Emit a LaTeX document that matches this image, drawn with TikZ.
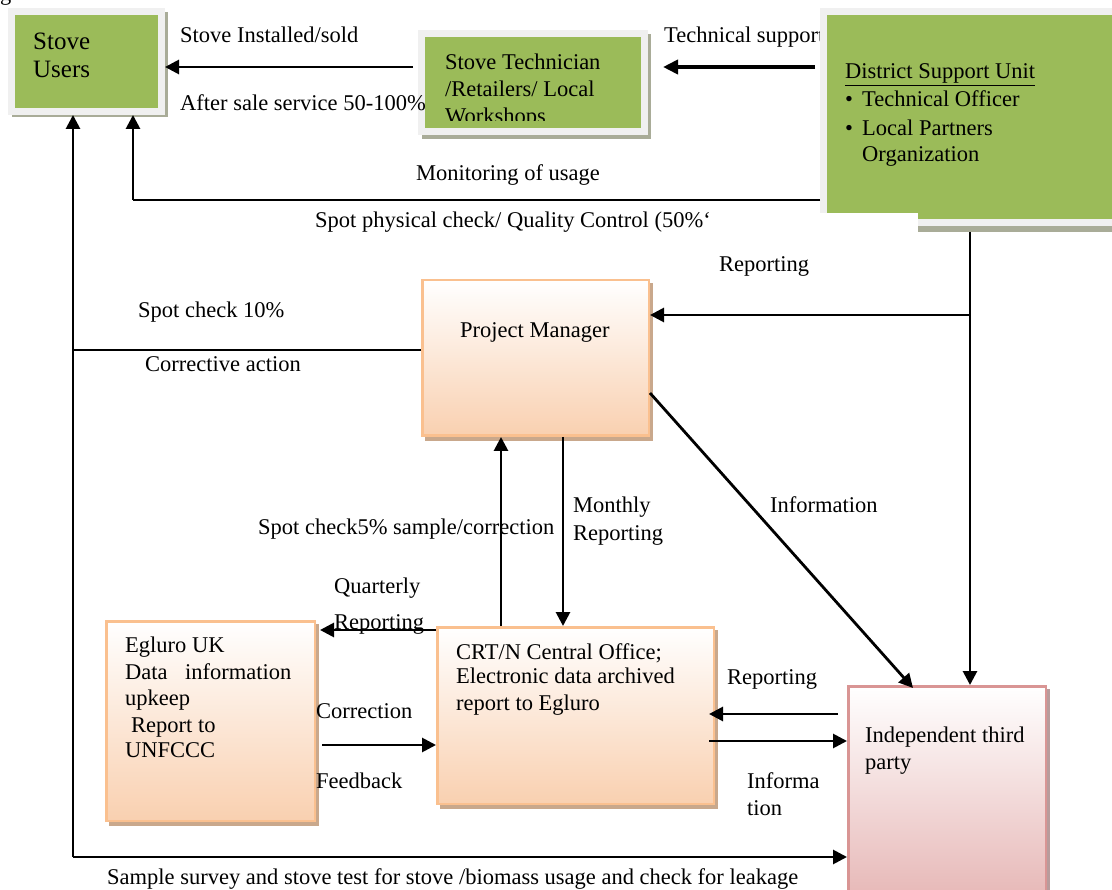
\documentclass[tikz,border=0pt]{standalone}
\usepackage{fontspec}
\setmainfont{Liberation Serif}
\usetikzlibrary{arrows.meta}
\definecolor{grn}{HTML}{9BBB59}
\definecolor{grayb}{HTML}{F0F0F0}
\definecolor{peachb}{HTML}{FAC08F}
\definecolor{peachf}{HTML}{F9D0B0}
\definecolor{pinkb}{HTML}{D99594}
\definecolor{pinkf}{HTML}{E6B6B5}
\definecolor{shg}{HTML}{A9AC98}
\definecolor{shp}{HTML}{C9A88C}
\definecolor{shk}{HTML}{B89C9C}
\begin{document}
\begin{tikzpicture}[x=1pt,y=-1pt,
  txt/.style={anchor=base west, inner sep=0pt, font=\fontsize{22.5}{27}\selectfont},
  bigtxt/.style={anchor=base west, inner sep=0pt, font=\fontsize{25}{30}\selectfont},
  ln/.style={line width=2.8pt},
  arr/.style={line width=2.8pt, -{Triangle[length=14pt,width=14pt]}},
  thickarr/.style={line width=4pt, -{Triangle[length=15pt,width=14pt]}},
  greenbox/.style={draw=grayb, line width=7pt, fill=grn, inner sep=0pt, anchor=north west},
  peachbox/.style={draw=peachb, line width=2.5pt, top color=white, bottom color=peachf, inner sep=0pt, anchor=north west},
  pinkbox/.style={draw=pinkb, line width=2.5pt, top color=white, bottom color=pinkf, inner sep=0pt, anchor=north west}]
\useasboundingbox (0,0) rectangle (1112,890);

% fragment at top left
\node[txt] (fig) at (0,0.5) {g};

% ---------- shadows ----------
\fill[shg] (12,111) rectangle (168,117);
\fill[shg] (161,12) rectangle (168,117);
\fill[shg] (422,131) rectangle (651,139);
\fill[shg] (644,34) rectangle (651,139);
\fill[shg] (918,226) rectangle (1112,232);
\fill[shp] (425,283) rectangle (653,441);
\fill[shp] (440,630) rectangle (718,809);
\fill[shp] (109,624) rectangle (319,826);
\fill[shk] (851,689) rectangle (1050,905);

% ---------- top row ----------
\node[txt] (tsup) at (664,43) {Technical support};

\node[greenbox, minimum width=150pt, minimum height=100pt] (su) at (8,8) {};
\node[bigtxt] (su1) at (33,50) {Stove};
\node[bigtxt] (su2) at (33,78) {Users};

\node[greenbox, minimum width=223pt, minimum height=98pt] (tech) at (418,30) {};
\begin{scope}
  \clip (418,30) rectangle (648,121);
  \node[txt] (te1) at (445,70) {Stove Technician};
  \node[txt] (te2) at (445,97) {/Retailers/ Local};
  \node[txt] (te3) at (445,124) {Workshops};
\end{scope}

\node[greenbox, minimum width=298pt, minimum height=211pt] (dsu) at (820,8) {};
\node[txt] (d1) at (845,79) {\underline{District Support Unit}};
\node[txt] (b1) at (845,107) {\textbullet};
\node[txt] (d2) at (862,107) {Technical Officer};
\node[txt] (b2) at (845,136) {\textbullet};
\node[txt] (d3) at (862,136) {Local Partners};
\node[txt] (d4) at (862,162) {Organization};
\fill[white] (812,213) rectangle (918,240);

\node[txt] (l1) at (180,43) {Stove Installed/sold};
\node[txt] (l2) at (180,111) {After sale service 50-100\%};
\node[txt] (l3) at (416,181) {Monitoring of usage};
\node[txt] (l4) at (315,228) {Spot physical check/ Quality Control (50\%`};

\coordinate (c1) at (413,67);
\draw[arr] (c1) -- (su.east |- c1);
\coordinate (c2) at (815,67);
\coordinate (c3) at (663,67);
\draw[thickarr] (c2) -- (c3);

\coordinate (c4) at (820,200);
\coordinate (c5) at (133,200);
\draw[ln] (c4) -- (c5);
\draw[arr] (c5) -- (c5 |- su.south);

% ---------- middle ----------
\node[peachbox, minimum width=226.5pt, minimum height=155.5pt] (pm) at (421,279) {};
\node[txt] (pmt) at (460,338) {Project Manager};

\coordinate (v1) at (970,232);
\coordinate (v2) at (970,315);
\node[txt] (l5) at (719,272) {Reporting};
\node[txt] (l6) at (138,318) {Spot check 10\%};
\node[txt] (l7) at (145,372) {Corrective action};
\node[txt] (l8) at (258,535) {Spot check5\% sample/correction};
\node[txt] (l9) at (573,513) {Monthly};
\node[txt] (l10) at (573,540) {Reporting};
\node[txt] (l11) at (770,513) {Information};

% ---------- bottom boxes ----------
\node[peachbox, minimum width=276.5pt, minimum height=176.5pt] (crt) at (436,626) {};
\node[txt] (cr1) at (456,659) {CRT/N Central Office;};
\node[txt] (cr2) at (456,683) {Electronic data archived};
\node[txt] (cr3) at (456,710) {report to Egluro};

\node[peachbox, minimum width=208.5pt, minimum height=199.5pt] (egl) at (105,620) {};
\node[txt] (e1) at (125,652) {Egluro UK};
\node[txt] (e2) at (125,679) {Data};
\node[txt] (e2b) at (185,679) {information};
\node[txt] (e3) at (125,705) {upkeep};
\node[txt] (e4) at (131,732) {Report to};
\node[txt] (e5) at (125,757) {UNFCCC};

\node[pinkbox, minimum width=197.5pt, minimum height=217.5pt] (third) at (847,685) {};
\node[txt] (t1) at (865,742) {Independent third};
\node[txt] (t2) at (865,769) {party};

\node[txt] (l12) at (334,594) {Quarterly};
\node[txt] (l13) at (334,629) {Reporting};
\node[txt] (l14) at (316,718) {Correction};
\node[txt] (l15) at (316,788) {Feedback};
\node[txt] (l16) at (727,684) {Reporting};
\node[txt] (l17) at (747,788) {Informa};
\node[txt] (l18) at (747,815) {tion};
\node[txt] (l19) at (107,884) {Sample survey and stove test for stove /biomass usage and check for leakage};

% ---------- connectors ----------
\draw[arr] (v1) -- (v1 |- third.north);
\draw[arr] (v2) -- (v2 -| pm.east);

\coordinate (h1) at (73,350);
\coordinate (h2) at (73,857);
\draw[ln] (h1 -| pm.west) -- (h1);
\draw[arr] (h2) -- (h2 |- su.south);
\draw[arr] (h2) -- (h2 -| third.west);

\coordinate (u1) at (501,0);
\coordinate (u2) at (563,0);
\draw[arr] (u1 |- crt.north) -- (u1 |- pm.south);
\draw[arr] (u2 |- pm.south) -- (u2 |- crt.north);

\coordinate (dg1) at (650,393);
\coordinate (dg2) at (913,688);
\draw[arr] (dg1) -- (dg2);

\coordinate (q1) at (0,630);
\draw[arr] (q1 -| crt.west) -- (320,630);
\coordinate (f1) at (322,745);
\draw[arr] (f1) -- (f1 -| crt.west);
\coordinate (r1) at (838,714);
\draw[arr] (r1) -- (709,714);
\coordinate (r2) at (709,741);
\draw[arr] (r2) -- (r2 -| third.west);
\end{tikzpicture}
\end{document}
